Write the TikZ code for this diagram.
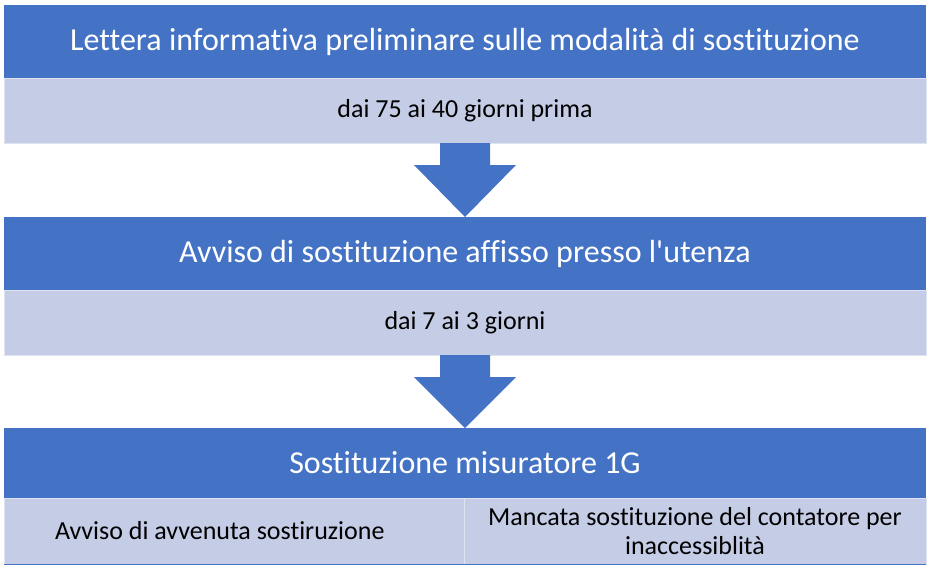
\documentclass[tikz,border=0pt]{standalone}
\usepackage{fontspec}
\setmainfont{Carlito}[Ligatures={TeX,NoCommon}]
\usepackage{xcolor}
\usetikzlibrary{positioning, calc}
\definecolor{hdblue}{RGB}{68,114,196}
\definecolor{bandblue}{RGB}{196,204,230}
\tikzset{
  header/.style={rectangle, fill=hdblue, text=white, minimum width=922pt, minimum height=73pt, inner sep=0pt, outer sep=0pt, font=\fontsize{32}{36}\selectfont},
  band/.style={rectangle, fill=bandblue, draw=bandblue!55!white, line width=0.6pt, minimum width=922pt, minimum height=65pt, inner sep=0pt, outer sep=0pt, font=\fontsize{26}{29}\selectfont},
  blockarrow/.style={fill=hdblue},
}
\begin{document}
\begin{tikzpicture}[x=1pt, y=-1pt]
  \useasboundingbox (0,0) rectangle (933,571);
  % First step
  \node[header] (head1) at (465,41.5) {Lettera informativa preliminare sulle modalità di sostituzione};
  \node[band, below=0pt of head1] (band1) {dai 75 ai 40 giorni prima};

  % Second step
  \node[header, below=74pt of band1] (head2) {Avviso di sostituzione affisso presso l\textquotesingle utenza};
  \node[band, below=0pt of head2] (band2) {dai 7 ai 3 giorni};

  % Third step, two outcomes
  \node[header, below=73pt of band2, minimum height=70pt] (head3) {Sostituzione misuratore 1G};
  \node[band, anchor=north west, minimum width=460pt, minimum height=66pt, text width=358pt, inner xsep=51pt, align=flush left] (cellL) at (head3.south west) {Avviso di avvenuta sostiruzione};
  \node[band, right=0pt of cellL, minimum width=462pt, minimum height=66pt, text width=450pt, align=flush center] (cellR) {Mancata sostituzione del contatore per\\inaccessiblità};
  \draw[hdblue, line width=1pt] (cellL.south west) -- (cellR.south east);

  % Block arrows
  \foreach \a/\b in {band1/head2, band2/head3}
    \fill[blockarrow] ($(\a.south)+(-25,0)$) -- ++(0,22) -- ++(-26,0) -- (\b.north)
      -- ($(\a.south)+(51,22)$) -- ++(-26,0) -- ++(0,-22) -- cycle;
\end{tikzpicture}
\end{document}
